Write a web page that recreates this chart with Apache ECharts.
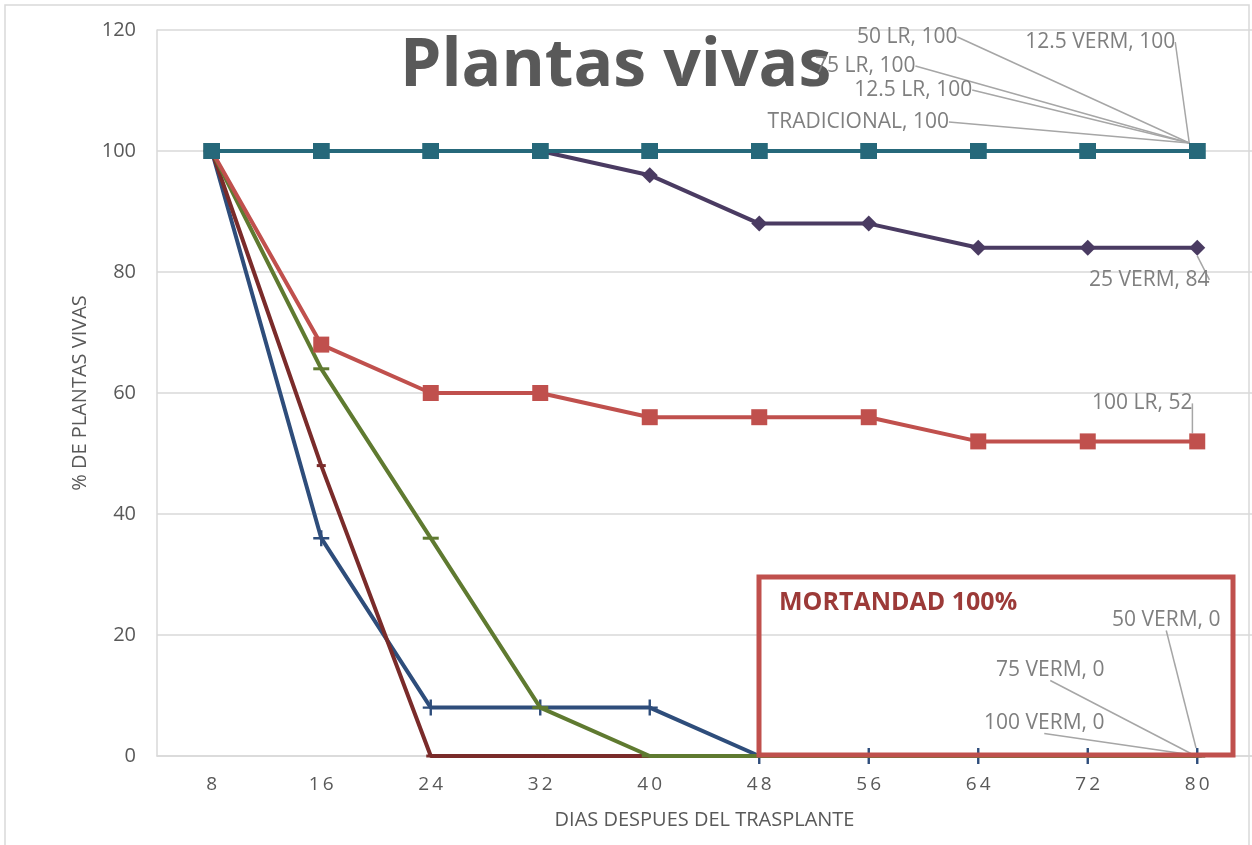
<!DOCTYPE html>
<html>
<head>
<meta charset="utf-8">
<script src="https://cdn.jsdelivr.net/npm/echarts@6/dist/echarts.min.js"></script>
<style>
html,body{margin:0;padding:0;background:#fff;}
#chart{width:1252px;height:845px;}
</style>
</head>
<body>
<div id="chart"></div>
<script>
// ---- data ----
const days = ['8','16','24','32','40','48','56','64','72','80'];
const yTicks = [0, 20, 40, 60, 80, 100, 120];

const serieNames = ['50 VERM','75 VERM','100 VERM','100 LR','25 VERM','50 LR','75 LR','12.5 LR','12.5 VERM','TRADICIONAL'];
const verm50   = [100, 36, 8, 8, 8, 0, 0, 0, 0, 0];
const verm75   = [100, 48, 0, 0, 0, 0, 0, 0, 0, 0];
const verm100  = [100, 64, 36, 8, 0, 0, 0, 0, 0, 0];
const lr100    = [100, 68, 60, 60, 56, 56, 56, 52, 52, 52];
const verm25   = [100, 100, 100, 100, 96, 88, 88, 84, 84, 84];
const lr50     = [100, 100, 100, 100, 100, 100, 100, 100, 100, 100];
const lr75     = [100, 100, 100, 100, 100, 100, 100, 100, 100, 100];
const lr125    = [100, 100, 100, 100, 100, 100, 100, 100, 100, 100];
const verm125  = [100, 100, 100, 100, 100, 100, 100, 100, 100, 100];
const tradicional = [100, 100, 100, 100, 100, 100, 100, 100, 100, 100];
const seriesValues = [verm50, verm75, verm100, lr100, verm25, lr50, lr75, lr125, verm125, tradicional];

// ---- styles (not data) ----
const PLUS = 'path://M6.8,0H9.2V6.8H16V9.2H9.2V16H6.8V9.2H0V6.8H6.8Z';
const styles = [
  {color:'#2e4d7b', symbol:PLUS, size:16},
  {color:'#7a2b2a', symbol:'rect', size:[9,3]},
  {color:'#5f7a30', symbol:'rect', size:[16,3]},
  {color:'#c0504d', symbol:'rect', size:16},
  {color:'#4a3b62', symbol:'diamond', size:16},
  {color:'#26687a', symbol:'rect', size:16},
  {color:'#26687a', symbol:'rect', size:16},
  {color:'#26687a', symbol:'rect', size:16},
  {color:'#26687a', symbol:'rect', size:16},
  {color:'#26687a', symbol:'rect', size:16}
];
// label offsets (dx, dy) from the last point, in pixels
const labelOffsets = [
  [-31, -136], [-147, -86], [-153, -33], [-55, -38], [-48, 32],
  [-290, -114], [-332, -85], [-284, -61], [-97, -109], [-339, -29]
];

const FONT = 'Open Sans';
const series = serieNames.map((name, i) => {
  const vals = seriesValues[i];
  return {
    name: name,
    type: 'line',
    data: vals.map((v, j) => j === vals.length - 1
      ? {value: v, label: {show: true}}
      : v),
    symbol: styles[i].symbol,
    symbolSize: styles[i].size,
    showAllSymbol: true,
    lineStyle: {color: styles[i].color, width: 4},
    itemStyle: {color: styles[i].color, borderWidth: 0},
    label: {
      show: false,
      position: 'inside',
      formatter: '{a}, {c}',
      fontFamily: FONT,
      fontSize: 21,
      color: '#7f7f7f'
    },
    labelLine: {show: true, lineStyle: {color: '#a6a6a6', width: 1.5}},
    labelLayout: function () {
      return {dx: labelOffsets[i][0], dy: labelOffsets[i][1]};
    },
    z: 2 + i,
    emphasis: {disabled: true}
  };
});

const chart = echarts.init(document.getElementById('chart'));
chart.setOption({
  animation: false,
  backgroundColor: '#ffffff',
  title: {
    text: 'Plantas vivas',
    left: 395,
    top: 29,
    textStyle: {fontFamily: FONT, fontSize: 66, fontWeight: 'bold', color: '#595959'}
  },
  grid: {left: 157, right: 0, top: 30, bottom: 89},
  xAxis: {
    type: 'category',
    data: days,
    boundaryGap: true,
    name: 'DIAS DESPUES DEL TRASPLANTE',
    nameLocation: 'middle',
    nameGap: 54,
    nameTextStyle: {fontFamily: FONT, fontSize: 20, color: '#595959'},
    axisLine: {lineStyle: {color: '#d9d9d9', width: 1.5}},
    axisTick: {show: false},
    axisLabel: {
      fontFamily: FONT, fontSize: 19, color: '#595959', margin: 19,
      formatter: v => v.split('').join('\u2009')
    },
    splitLine: {show: false}
  },
  yAxis: {
    type: 'value',
    min: yTicks[0],
    max: yTicks[yTicks.length - 1],
    interval: yTicks[1] - yTicks[0],
    name: '% DE PLANTAS VIVAS',
    nameLocation: 'middle',
    nameGap: 67,
    nameTextStyle: {fontFamily: FONT, fontSize: 20, color: '#595959'},
    axisLine: {show: true, lineStyle: {color: '#d9d9d9', width: 1.5}},
    axisTick: {show: false},
    axisLabel: {fontFamily: FONT, fontSize: 20, color: '#595959', margin: 21},
    splitLine: {lineStyle: {color: '#d9d9d9', width: 1.5}}
  },
  graphic: [
    {
      type: 'rect', z: 0, silent: true,
      shape: {x: 5, y: 5, width: 1244, height: 860},
      style: {fill: 'none', stroke: '#d9d9d9', lineWidth: 1.5}
    },
    {
      type: 'rect', z: 100, silent: true,
      shape: {x: 759, y: 577, width: 474, height: 178},
      style: {fill: 'none', stroke: '#c0504d', lineWidth: 5}
    },
    {
      type: 'text', z: 101, silent: true,
      x: 779, y: 590,
      style: {text: 'MORTANDAD 100%', fontFamily: FONT, fontSize: 25, fontWeight: 'bold', fill: '#9c3a38'}
    }
  ],
  series: series
});
</script>
</body>
</html>
